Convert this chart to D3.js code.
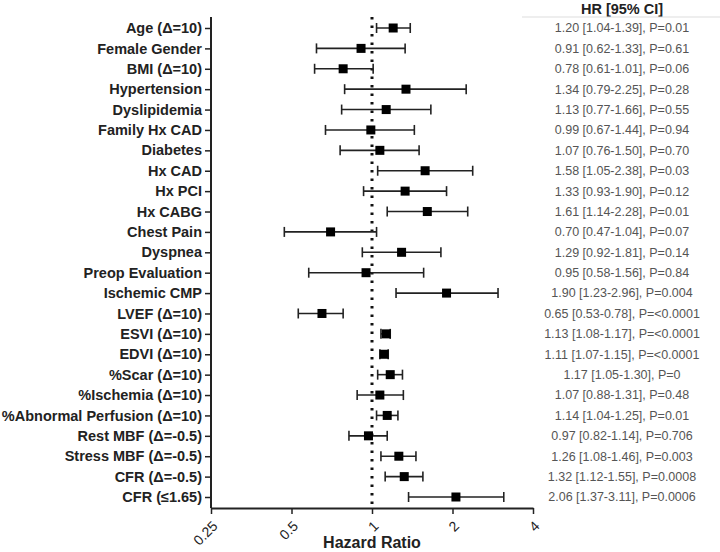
<!DOCTYPE html>
<html><head><meta charset="utf-8">
<script src="https://cdn.jsdelivr.net/npm/d3@7"></script>
<style>body{margin:0;background:#fff}svg{display:block}</style>
</head><body>
<script>
const labels = ["Age (Δ=10)","Female Gender","BMI (Δ=10)","Hypertension","Dyslipidemia","Family Hx CAD","Diabetes","Hx CAD","Hx PCI","Hx CABG","Chest Pain","Dyspnea","Preop Evaluation","Ischemic CMP","LVEF (Δ=10)","ESVI (Δ=10)","EDVI (Δ=10)","%Scar (Δ=10)","%Ischemia (Δ=10)","%Abnormal Perfusion (Δ=10)","Rest MBF (Δ=-0.5)","Stress MBF (Δ=-0.5)","CFR (Δ=-0.5)","CFR (≤1.65)"];
const hr  = [1.20,0.91,0.78,1.34,1.13,0.99,1.07,1.58,1.33,1.61,0.70,1.29,0.95,1.90,0.65,1.13,1.11,1.17,1.07,1.14,0.97,1.26,1.32,2.06];
const lo  = [1.04,0.62,0.61,0.79,0.77,0.67,0.76,1.05,0.93,1.14,0.47,0.92,0.58,1.23,0.53,1.08,1.07,1.05,0.88,1.04,0.82,1.08,1.12,1.37];
const hi  = [1.39,1.33,1.01,2.25,1.66,1.44,1.50,2.38,1.90,2.28,1.04,1.81,1.56,2.96,0.78,1.17,1.15,1.30,1.31,1.25,1.14,1.46,1.55,3.11];
const pvals = ["0.01","0.61","0.06","0.28","0.55","0.94","0.70","0.03","0.12","0.01","0.07","0.14","0.84","0.004","<0.0001","<0.0001","<0.0001","0","0.48","0.01","0.706","0.003","0.0008","0.0006"];
const xTicks = [0.25,0.5,1,2,4];
const header = "HR [95% CI]";
const xTitle = "Hazard Ratio";

const W=720,H=552;
const svg=d3.select("body").append("svg").attr("width",W).attr("height",H)
  .style("font-family","'Liberation Sans',Arial,sans-serif");

const x=d3.scaleLog().base(2).domain([0.25,4]).range([211,533]);
const y=d3.scalePoint().domain(labels).range([28,497]);

// y axis
const yAx=svg.append("g").attr("transform","translate(211,0)")
  .call(d3.axisLeft(y).tickSize(6).tickPadding(3));
yAx.select(".domain").attr("d","M0,17V508").attr("stroke","#222").attr("stroke-width",2);
yAx.selectAll(".tick line").attr("stroke","#222").attr("stroke-width",1.5);
yAx.selectAll(".tick text").attr("fill","#222").style("font-size","14.5px").style("font-weight","bold");

// x axis
const xAx=svg.append("g").attr("transform","translate(0,508)")
  .call(d3.axisBottom(x).tickValues(xTicks).tickFormat(d=>String(d)).tickSize(6).tickSizeOuter(0));
xAx.select(".domain").attr("stroke","#222").attr("stroke-width",2);
xAx.selectAll(".tick line").attr("stroke","#222").attr("stroke-width",1.5);
xAx.selectAll(".tick text").attr("fill","#222").style("font-size","14px")
  .attr("text-anchor","end").attr("y",0).attr("dy","0").attr("transform","translate(7,19) rotate(-45)");

svg.append("text").attr("x",372).attr("y",548).attr("text-anchor","middle")
  .style("font-size","16px").style("font-weight","bold").attr("fill","#222").text(xTitle);

// reference line
svg.append("line").attr("x1",x(1)).attr("x2",x(1)).attr("y1",17).attr("y2",505)
  .attr("stroke","#111").attr("stroke-width",3).attr("stroke-dasharray","2.5,6");

// error bars
const rows=svg.append("g").selectAll("g").data(labels).join("g")
  .attr("transform",d=>`translate(0,${y(d)})`);
rows.append("line").attr("x1",(d,i)=>x(lo[i])).attr("x2",(d,i)=>x(hi[i]))
  .attr("stroke","#222").attr("stroke-width",1.6);
rows.append("line").attr("x1",(d,i)=>x(lo[i])).attr("x2",(d,i)=>x(lo[i])).attr("y1",-5).attr("y2",5)
  .attr("stroke","#222").attr("stroke-width",1.6);
rows.append("line").attr("x1",(d,i)=>x(hi[i])).attr("x2",(d,i)=>x(hi[i])).attr("y1",-5).attr("y2",5)
  .attr("stroke","#222").attr("stroke-width",1.6);
rows.append("rect").attr("x",(d,i)=>x(hr[i])-4.5).attr("y",-4.5).attr("width",9).attr("height",9).attr("fill","#000");

// right column
svg.append("text").attr("x",622).attr("y",13.5).attr("text-anchor","middle")
  .style("font-size","14.5px").style("font-weight","bold").attr("fill","#222").text(header);
svg.append("line").attr("x1",522).attr("x2",720).attr("y1",17).attr("y2",17).attr("stroke","#ddd").attr("stroke-width",1);
svg.append("g").selectAll("text").data(labels).join("text")
  .attr("x",622).attr("y",d=>y(d)).attr("dy","0.35em").attr("text-anchor","middle")
  .style("font-size","12.5px").attr("fill","#555")
  .text((d,i)=>`${hr[i].toFixed(2)} [${lo[i].toFixed(2)}-${hi[i].toFixed(2)}], P=${pvals[i]}`);
</script>
</body></html>
